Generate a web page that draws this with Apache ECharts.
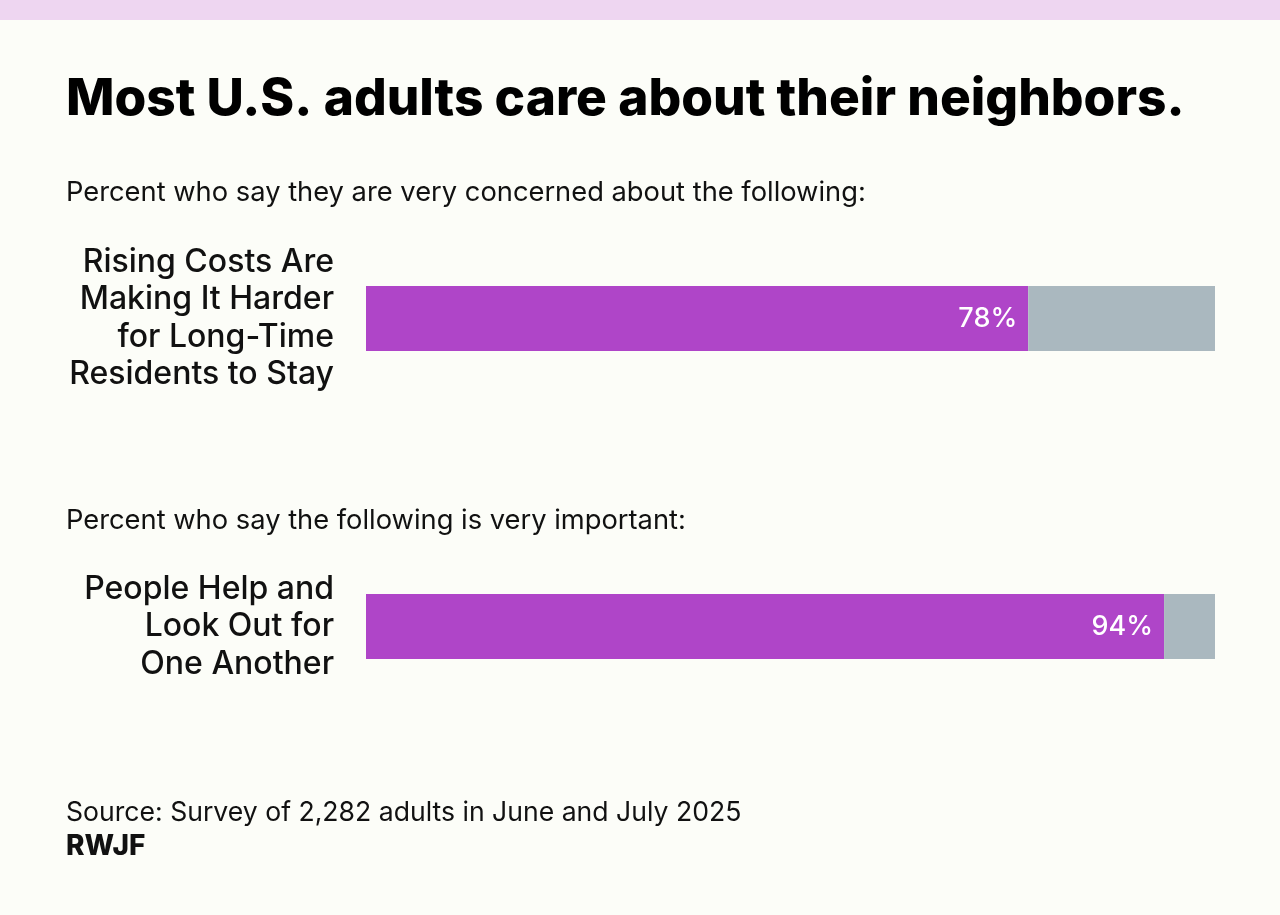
<!DOCTYPE html>
<html><head><meta charset="utf-8">
<script src="https://cdn.jsdelivr.net/npm/echarts@6/dist/echarts.min.js"></script>
<style>html,body{margin:0;padding:0;background:#fcfdf8;}#c{width:1280px;height:915px;}</style>
</head><body><div id="c"></div>
<script>
const titleText = 'Most U.S. adults care about their neighbors.';
const subtitle1 = 'Percent who say they are very concerned about the following:';
const subtitle2 = 'Percent who say the following is very important:';
const sourceText = 'Source: Survey of 2,282 adults in June and July 2025';
const brandText = 'RWJF';
const categories1 = ['Rising Costs Are\nMaking It Harder\nfor Long-Time\nResidents to Stay'];
const values1 = [78];
const rest1 = [22];
const categories2 = ['People Help and\nLook Out for\nOne Another'];
const values2 = [94];
const rest2 = [6];

const FONT = 'Inter';
const PURPLE = '#af45c8';
const GRAY = '#aab8bf';
const chart = echarts.init(document.getElementById('c'), null, {renderer:'canvas'});

function yAx(idx, cats){
  return {type:'category', gridIndex:idx, data:cats, inverse:true,
    axisLine:{show:false}, axisTick:{show:false},
    axisLabel:{margin:32, color:'#111', fontFamily:FONT, fontWeight:500, fontSize:32, lineHeight:37.5, align:'right'}};
}
function xAx(idx){
  return {type:'value', gridIndex:idx, min:0, max:100, show:false};
}
const lbl = {show:true, position:'insideRight', distance:11, color:'#fff', fontFamily:FONT, fontWeight:500, fontSize:27,
  formatter:p=>p.value+'%'};

chart.setOption({
  backgroundColor:'#fcfdf8',
  animation:false,
  grid:[
    {left:366, width:849, top:286, height:65},
    {left:366, width:849, top:594, height:65}
  ],
  xAxis:[xAx(0), xAx(1)],
  yAxis:[yAx(0, categories1), yAx(1, categories2)],
  series:[
    {type:'bar', xAxisIndex:0, yAxisIndex:0, stack:'a', data:values1, barWidth:65, itemStyle:{color:PURPLE}, label:lbl},
    {type:'bar', xAxisIndex:0, yAxisIndex:0, stack:'a', data:rest1, barWidth:65, itemStyle:{color:GRAY}},
    {type:'bar', xAxisIndex:1, yAxisIndex:1, stack:'b', data:values2, barWidth:65, itemStyle:{color:PURPLE}, label:lbl},
    {type:'bar', xAxisIndex:1, yAxisIndex:1, stack:'b', data:rest2, barWidth:65, itemStyle:{color:GRAY}}
  ],
  graphic:[
    {type:'rect', shape:{x:0,y:0,width:1280,height:20}, style:{fill:'#eed6f1'}},
    {type:'text', x:66, y:100, style:{text:titleText, fontFamily:FONT, fontWeight:800, fontSize:51.4, fill:'#000', textVerticalAlign:'middle'}},
    {type:'text', x:66, y:193, style:{text:subtitle1, fontFamily:FONT, fontSize:27.3, fill:'#111', textVerticalAlign:'middle'}},
    {type:'text', x:66, y:521, style:{text:subtitle2, fontFamily:FONT, fontSize:27.3, fill:'#111', textVerticalAlign:'middle'}},
    {type:'text', x:66, y:813, style:{text:sourceText, fontFamily:FONT, fontSize:26.6, fill:'#111', textVerticalAlign:'middle'}},
    {type:'text', x:66, y:847, style:{text:brandText, fontFamily:FONT, fontWeight:800, fontSize:28, fill:'#111', textVerticalAlign:'middle'}}
  ]
});
</script></body></html>
